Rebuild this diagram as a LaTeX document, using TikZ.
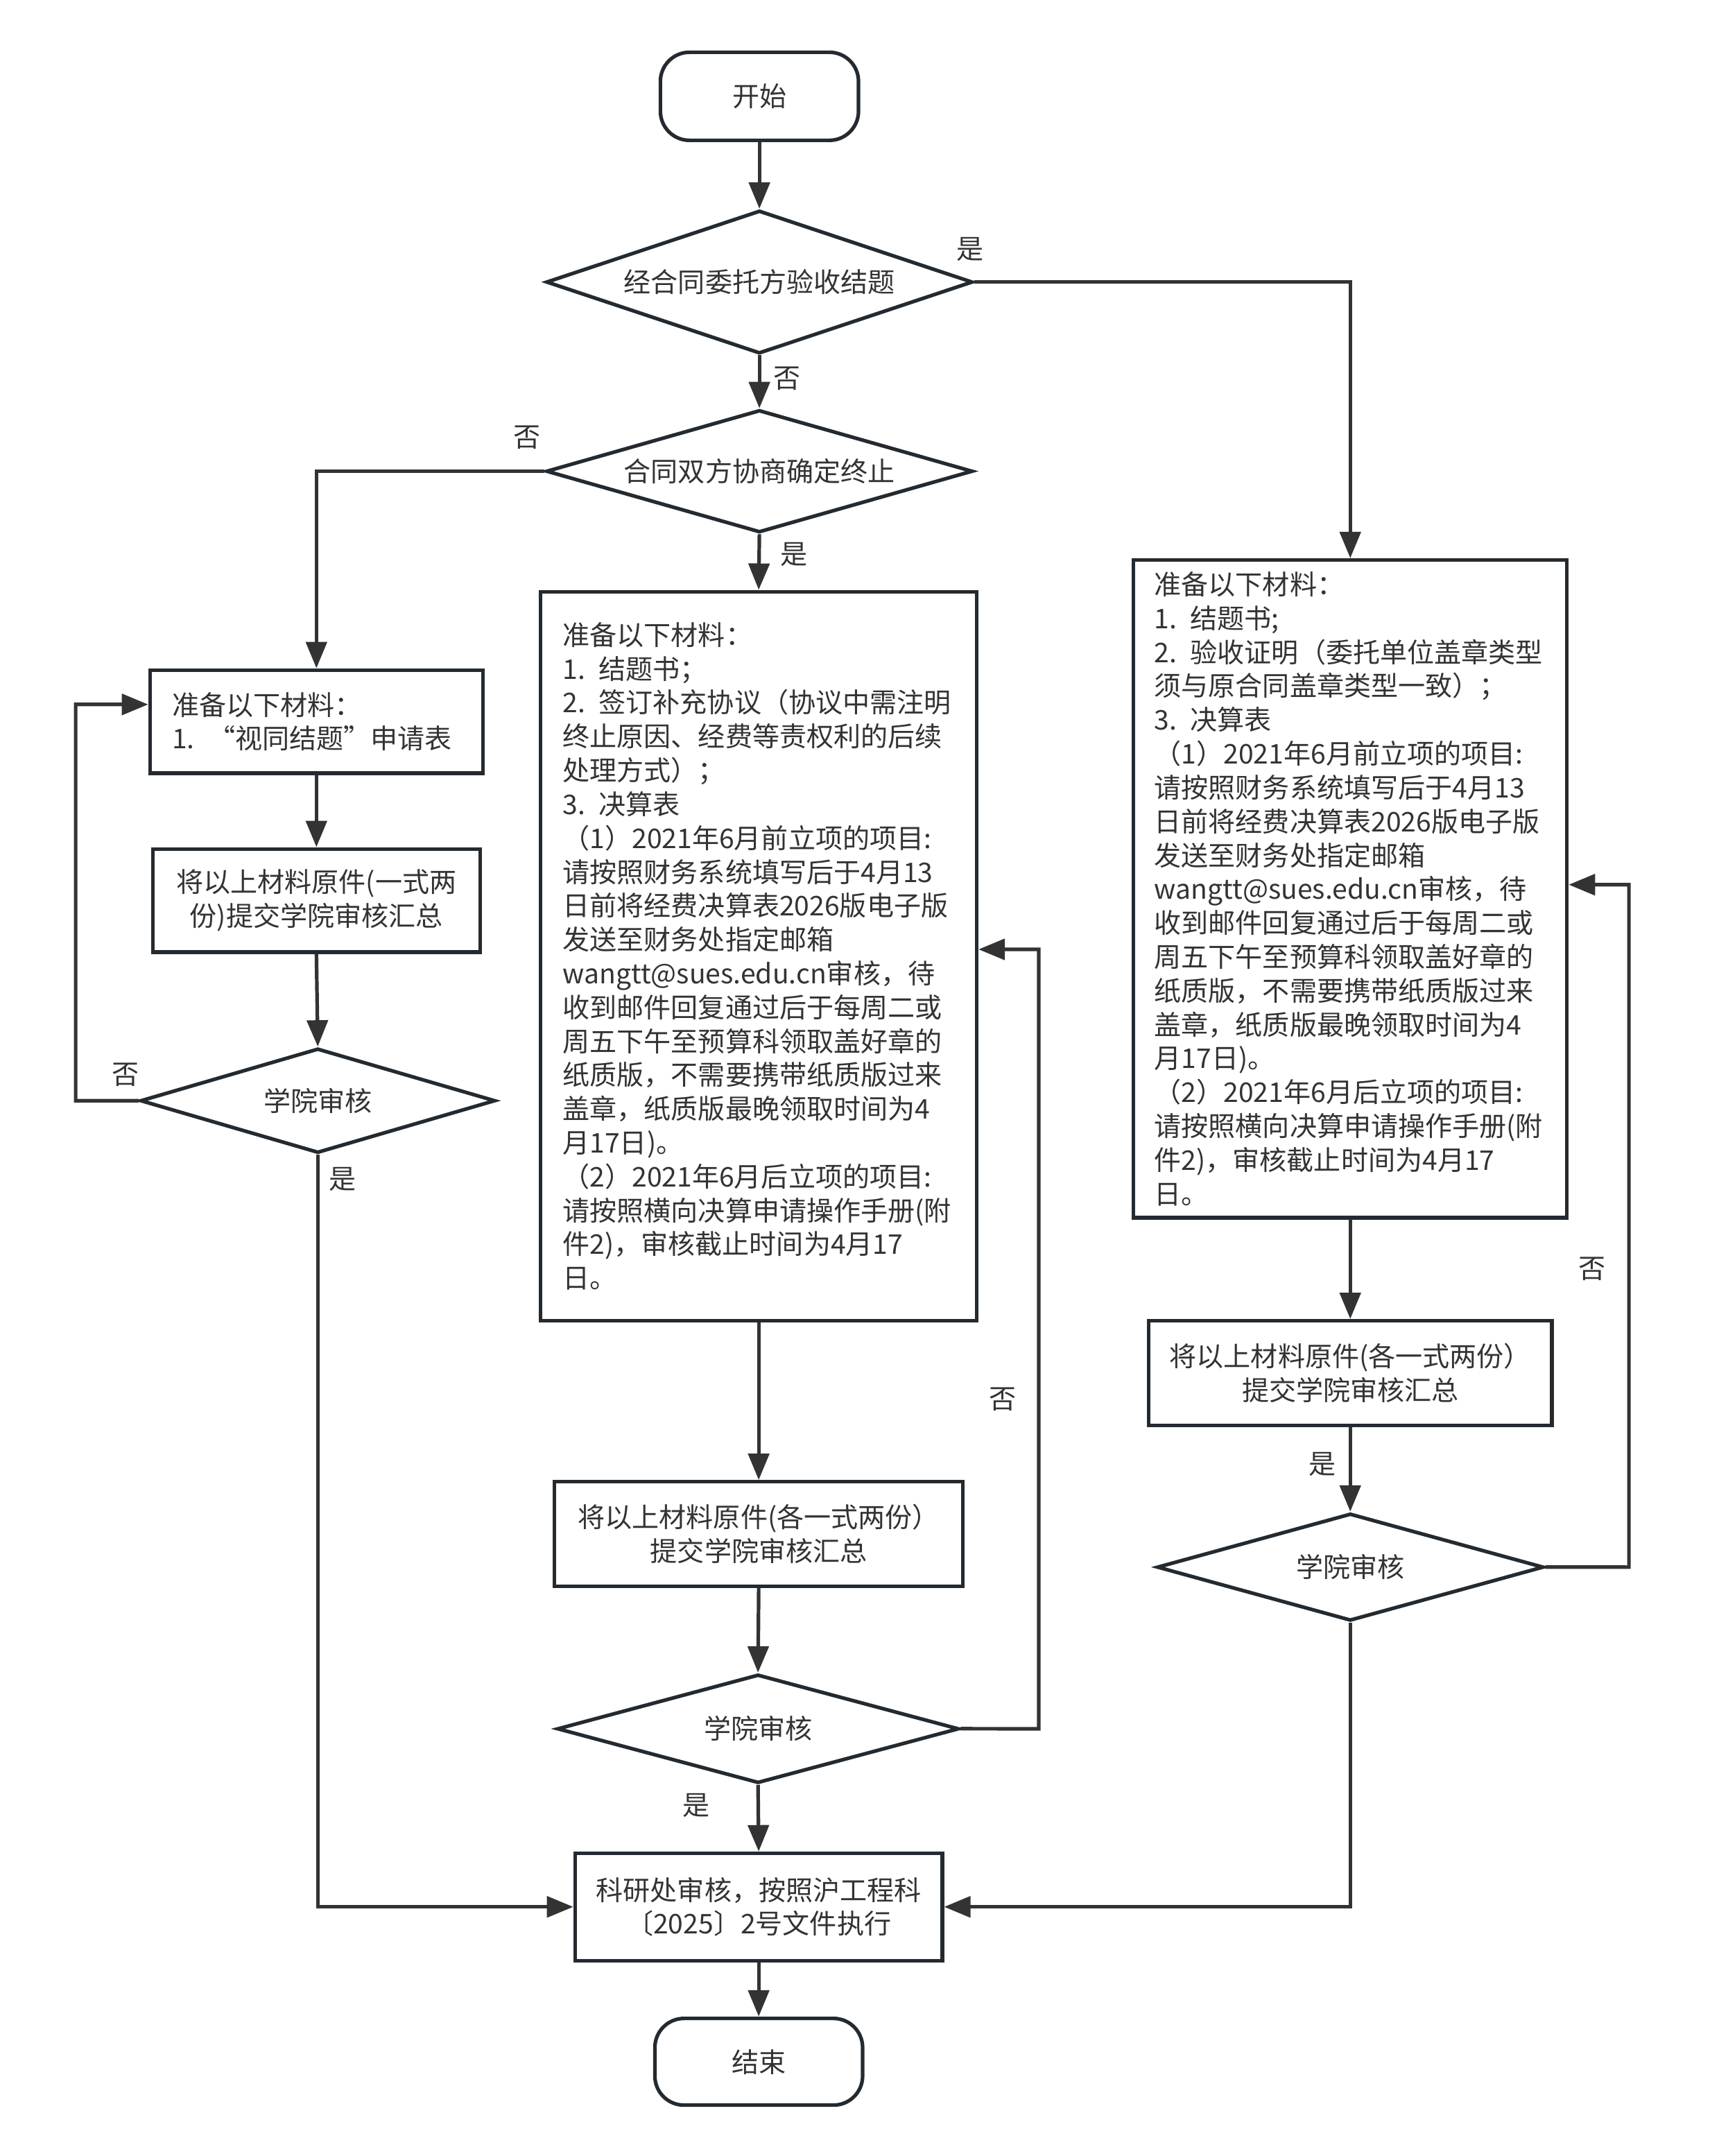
\documentclass[tikz,border=0pt]{standalone}
\usepackage{fontspec}
\setmainfont{Noto Sans CJK SC}
\usetikzlibrary{shapes.geometric,arrows.meta}
\definecolor{ln}{HTML}{333333}
\definecolor{bd}{HTML}{232A30}
\definecolor{tx}{HTML}{333333}
\tikzset{
  every node/.style={font=\fontsize{19.7}{24.6}\selectfont, text=tx},
  boxn/.style={draw=bd, line width=2.6pt, rectangle, inner sep=0pt, align=center},
  termn/.style={draw=bd, line width=2.6pt, rectangle, rounded corners=21pt, inner sep=0pt},
  decn/.style={draw=bd, line width=2.6pt, diamond, aspect=3.5, inner sep=0pt},
  arr/.style={draw=ln, line width=2.6pt, -{Triangle[length=19pt,width=15pt]}},
  lbl/.style={inner sep=0pt}
}
\begin{document}
\begin{tikzpicture}[x=1pt,y=1pt,scale=0.992,transform shape]
\useasboundingbox[fill=white] (0,0) rectangle (1249,-1567);

% terminals
\node[termn, minimum width=144pt, minimum height=64pt] (start) at (552,-70) {开始};
\node[termn, minimum width=151pt, minimum height=63pt] (end) at (551.5,-1498.5) {结束};

% decisions
\node[decn, minimum width=310pt, minimum height=104pt] (d1) at (552,-205) {经合同委托方验收结题};
\node[decn, minimum width=310pt, minimum height=89pt] (d2) at (552,-342.5) {合同双方协商确定终止};
\node[decn, minimum width=258pt, minimum height=76pt] (dl) at (231,-800) {学院审核};
\node[decn, minimum width=292pt, minimum height=79pt] (dm) at (551,-1256.5) {学院审核};
\node[decn, minimum width=281pt, minimum height=78pt] (dr) at (981.5,-1139) {学院审核};

% left column
\node[boxn, minimum width=242pt, minimum height=75pt, text width=210pt, align=left] (l1) at (230,-524.5)
  {准备以下材料：\\1. “视同结题”申请表};
\node[boxn, minimum width=238pt, minimum height=75pt] (l2) at (230,-654.5)
  {将以上材料原件(一式两\\份)提交学院审核汇总};

% middle column
\node[boxn, minimum width=317pt, minimum height=530pt, text width=285pt, align=left] (mb) at (551.5,-695)
  {准备以下材料：\\
1. 结题书；\\
2. 签订补充协议（协议中需注明\\
终止原因、经费等责权利的后续\\
处理方式）；\\
3. 决算表\\
（1）2021年6月前立项的项目:\\
请按照财务系统填写后于4月13\\
日前将经费决算表2026版电子版\\
发送至财务处指定邮箱\\
wangtt@sues.edu.cn审核，待\\
收到邮件回复通过后于每周二或\\
周五下午至预算科领取盖好章的\\
纸质版，不需要携带纸质版过来\\
盖章，纸质版最晚领取时间为4\\
月17日)。\\
（2）2021年6月后立项的项目:\\
请按照横向决算申请操作手册(附\\
件2)，审核截止时间为4月17\\
日。};
\node[boxn, minimum width=297pt, minimum height=76pt] (ms) at (551.5,-1115)
  {将以上材料原件(各一式两份）\\提交学院审核汇总};
\node[boxn, minimum width=267pt, minimum height=78pt] (fin) at (551.5,-1386)
  {科研处审核，按照沪工程科\\〔2025〕2号文件执行};

% right column
\node[boxn, minimum width=315pt, minimum height=478pt, text width=285pt, align=left] (rb) at (981.5,-646)
  {准备以下材料：\\
1. 结题书;\\
2. 验收证明（委托单位盖章类型\\
须与原合同盖章类型一致）；\\
3. 决算表\\
（1）2021年6月前立项的项目:\\
请按照财务系统填写后于4月13\\
日前将经费决算表2026版电子版\\
发送至财务处指定邮箱\\
wangtt@sues.edu.cn审核，待\\
收到邮件回复通过后于每周二或\\
周五下午至预算科领取盖好章的\\
纸质版，不需要携带纸质版过来\\
盖章，纸质版最晚领取时间为4\\
月17日)。\\
（2）2021年6月后立项的项目:\\
请按照横向决算申请操作手册(附\\
件2)，审核截止时间为4月17\\
日。};
\node[boxn, minimum width=293pt, minimum height=76pt] (rs) at (981.5,-998)
  {将以上材料原件(各一式两份）\\提交学院审核汇总};

% connectors
\draw[arr] (start.south) -- (d1.north);
\draw[arr] (d1.east) -| (rb.north);
\draw[arr] (d1.south) -- (d2.north);
\draw[arr] (d2.west) -| (l1.north);
\draw[arr] (d2.south) -- (mb.north);
\draw[arr] (l1.south) -- (l2.north);
\draw[arr] (l2.south) -- (dl.north);
\draw[arr] (dl.west) -- (55,-800) -- (55,-512) -- (l1.west |- 55,-512);
\draw[arr] (dl.south) |- (fin.west);
\draw[arr] (mb.south) -- (ms.north);
\draw[arr] (ms.south) -- (dm.north);
\draw[arr] (dm.east) -- (755,-1256.5) -- (755,-690) -- (mb.east |- 755,-690);
\draw[arr] (dm.south) -- (fin.north);
\draw[arr] (fin.south) -- (end.north);
\draw[arr] (rb.south) -- (rs.north);
\draw[arr] (rs.south) -- (dr.north);
\draw[arr] (dr.east) -- (1184,-1139) -- (1184,-643) -- (rb.east |- 1184,-643);
\draw[arr] (dr.south) |- (fin.east);

% labels
\node[lbl] (y1) at (705,-181) {是};
\node[lbl] (n1) at (572,-275) {否};
\node[lbl] (n2) at (383,-318) {否};
\node[lbl] (y2) at (577,-403) {是};
\node[lbl] (n3) at (91,-781) {否};
\node[lbl] (y3) at (249,-857) {是};
\node[lbl] (n4) at (729,-1017) {否};
\node[lbl] (y4) at (506,-1312) {是};
\node[lbl] (y5) at (961,-1064) {是};
\node[lbl] (n5) at (1157,-922) {否};
\end{tikzpicture}
\end{document}
